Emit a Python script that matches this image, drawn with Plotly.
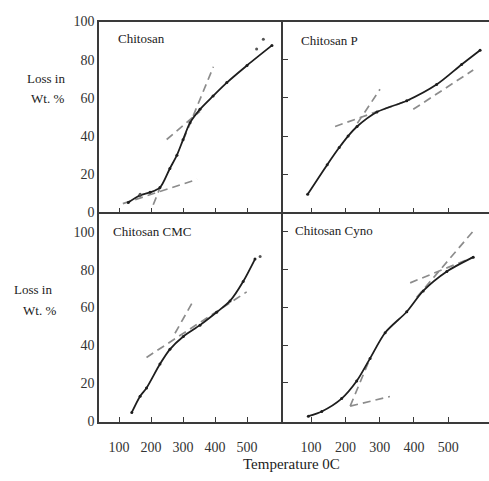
import plotly.graph_objects as go

W, H = 489, 481

# ---------------- data (temperature in C, loss in wt %) ----------------
chitosan_T = [129, 166, 197, 228, 259, 281, 300, 322, 353, 394, 437, 500, 578]
chitosan_L = [5.2, 9, 10.5, 13, 23, 30, 38, 47, 54, 61, 68, 77, 87.5]
chitosan_tangents = [
    ([112, 344], [4.6, 17.3]),
    ([207, 228], [4.0, 12.8]),
    ([249, 353], [38.2, 53.0]),
    ([301, 395], [38.0, 76.3]),
]
chitosan_dots_T = [551, 530, 166]
chitosan_dots_L = [90.7, 85.6, 9.5]

chitosanP_T = [90, 147, 182, 208, 234, 292, 379, 466, 539, 593]
chitosanP_L = [9.5, 25, 34, 40, 45, 52.6, 58.5, 67, 77.5, 85]
chitosanP_tangents = [
    ([170, 389], [45.0, 59.0]),
    ([235, 301], [46.7, 64.5]),
    ([398, 573], [54.0, 74.6]),
]

cmc_T = [140, 166, 186, 228, 259, 301, 353, 405, 447, 488, 525]
cmc_L = [4.4, 13, 17.3, 30, 37.8, 44.6, 50.6, 57.4, 63.4, 73.7, 85.6]
cmc_tangents = [
    ([186, 499], [33.5, 68.2]),
    ([275, 332], [46.3, 63.4]),
]
cmc_dots_T = [541]
cmc_dots_L = [87]

cyno_T = [92, 131, 189, 233, 272, 316, 379, 427, 496, 573]
cyno_L = [2.4, 4.9, 11.7, 21, 33, 46.6, 57.7, 68.7, 79, 86.6]
cyno_tangents = [
    ([214, 330], [7.7, 12.8]),
    ([214, 272], [7.7, 33.0]),
    ([408, 580], [65.3, 101.9]),
    ([389, 573], [73.0, 86.6]),
]

y_ticks = [0, 20, 40, 60, 80, 100]
x_ticks = [100, 200, 300, 400, 500]
x_labels = ["100", "200", "300", "400", "500"]

panel_names = ["Chitosan", "Chitosan P", "Chitosan CMC", "Chitosan Cyno"]

# ---------------- layout geometry (pixels -> paper) ----------------
def px_x(p):
    return p / W

def px_y(p):
    return (H - p) / H

x_left = [px_x(99), px_x(283)]
x_right = [px_x(283), 1.0]
y_top = [px_y(212), px_y(15)]
y_bot = [px_y(428), px_y(212)]

CURVE = "#1e1e1e"
DASH = "#8c8c8c"
AXIS = "#3a3a3a"
FONT = "Liberation Serif"

fig = go.Figure()

panels = [
    ("x", "y", chitosan_T, chitosan_L, chitosan_tangents),
    ("x2", "y2", chitosanP_T, chitosanP_L, chitosanP_tangents),
    ("x3", "y3", cmc_T, cmc_L, cmc_tangents),
    ("x4", "y4", cyno_T, cyno_L, cyno_tangents),
]

for xa, ya, T, L, tans in panels:
    for tx, ty in tans:
        fig.add_trace(go.Scatter(x=tx, y=ty, xaxis=xa, yaxis=ya, mode="lines",
                                 line=dict(color=DASH, width=1.7, dash="8px,5px"),
                                 showlegend=False, hoverinfo="skip"))
    fig.add_trace(go.Scatter(x=T, y=L, xaxis=xa, yaxis=ya, mode="lines+markers",
                             line=dict(color=CURVE, width=1.8, shape="spline", smoothing=0.8),
                             marker=dict(size=3, color=CURVE),
                             showlegend=False))

fig.add_trace(go.Scatter(x=chitosan_dots_T, y=chitosan_dots_L, xaxis="x", yaxis="y",
                         mode="markers", marker=dict(size=3, color="#555"), showlegend=False))
fig.add_trace(go.Scatter(x=cmc_dots_T, y=cmc_dots_L, xaxis="x3", yaxis="y3",
                         mode="markers", marker=dict(size=3, color="#555"), showlegend=False))

def xax(domain, anchor, rng, labels, mirror):
    return dict(domain=domain, anchor=anchor, range=rng, showgrid=False, zeroline=False,
                showline=True, linecolor=AXIS, linewidth=1.6, mirror=mirror,
                ticks="inside", ticklen=5, tickwidth=1.3, tickcolor=AXIS,
                tickvals=x_ticks, ticktext=x_labels, showticklabels=labels,
                ticklabelstandoff=12,
                tickfont=dict(family=FONT, size=14, color="#333"))

def yax(domain, anchor, rng, labels):
    d = dict(domain=domain, anchor=anchor, range=rng, showgrid=False, zeroline=False,
             showline=True, linecolor=AXIS, linewidth=1.6,
             tickvals=y_ticks, showticklabels=labels,
             tickfont=dict(family=FONT, size=14, color="#333"))
    if labels:
        d.update(ticks="")
    else:
        d.update(ticks="inside", ticklen=5, tickwidth=1.3, tickcolor=AXIS)
    return d

fig.update_layout(
    width=W, height=H,
    margin=dict(l=0, r=0, t=0, b=0),
    paper_bgcolor="white", plot_bgcolor="white",
    font=dict(family=FONT, color="#222"),
    xaxis=xax(x_left, "y", [37.5, 612.5], False, True),
    yaxis=yax(y_top, "x", [0, 100], True),
    xaxis2=xax(x_right, "y2", [18, 619], False, True),
    yaxis2=yax(y_top, "x2", [0, 100], False),
    xaxis3=xax(x_left, "y3", [37.5, 612.5], True, False),
    yaxis3=yax(y_bot, "x3", [-0.5, 110.3], True),
    xaxis4=xax(x_right, "y4", [18, 619], True, False),
    yaxis4=yax(y_bot, "x4", [-0.5, 110.3], False),
)

ann = []
label_pos = [(116, 33), (299, 35), (111, 232), (293, 231)]
for name, (lx, ly) in zip(panel_names, label_pos):
    ann.append(dict(text=name, x=px_x(lx), y=px_y(ly), xref="paper", yref="paper",
                    xanchor="left", yanchor="middle", showarrow=False,
                    font=dict(family=FONT, size=13, color="#222")))

for txt, lx, ly in [("Loss in", 25, 74), ("Wt. %", 29, 94),
                    ("Loss in", 12, 292), ("Wt. %", 21, 313)]:
    ann.append(dict(text=txt, x=px_x(lx), y=px_y(ly), xref="paper", yref="paper",
                    xanchor="left", yanchor="middle", showarrow=False,
                    font=dict(family=FONT, size=13, color="#222")))

ann.append(dict(text="Temperature 0C", x=px_x(291), y=px_y(472), xref="paper", yref="paper",
                xanchor="center", yanchor="middle", showarrow=False,
                font=dict(family=FONT, size=15, color="#222")))

fig.update_layout(annotations=ann)

fig.write_html("out.html")
